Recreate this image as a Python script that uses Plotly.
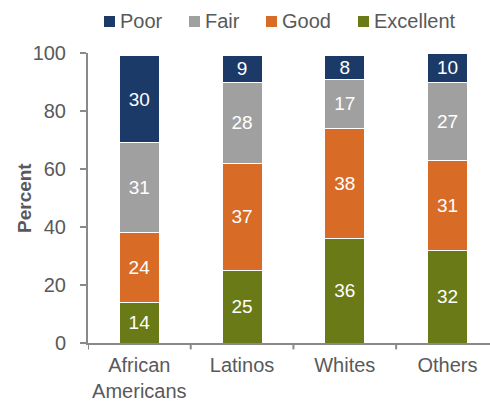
import plotly.graph_objects as go

groups = ["African<br>Americans", "Latinos", "Whites", "Others"]
excellent = [14, 25, 36, 32]
good = [24, 37, 38, 31]
fair = [31, 28, 17, 27]
poor = [30, 9, 8, 10]
y_ticks = [0, 20, 40, 60, 80, 100]

series = [
    ("Excellent", excellent, "#6A7A16"),
    ("Good", good, "#D86B26"),
    ("Fair", fair, "#A0A0A0"),
    ("Poor", poor, "#1B3A68"),
]

FONT = "Liberation Sans"
GREY = "#595959"
AXIS = "#898989"

fig = go.Figure()
for name, vals, color in series:
    fig.add_trace(go.Bar(
        x=list(range(len(groups))), y=vals, name=name,
        marker=dict(color=color, line=dict(color="white", width=1)),
        width=0.39,
        text=[str(v) for v in vals], textposition="inside", textangle=0,
        insidetextanchor="middle", constraintext="none",
        textfont=dict(color="white", size=19, family=FONT),
        showlegend=False,
    ))

fig.update_layout(
    barmode="stack",
    width=490, height=402,
    margin=dict(l=88, r=0, t=53, b=59, autoexpand=False),
    plot_bgcolor="white", paper_bgcolor="white",
    font=dict(family=FONT, size=20, color=GREY),
    showlegend=False,
)

# legend drawn as coloured squares with labels above the plot
legend_x = [104, 189, 266, 358]   # left edge of each square, in pixels
plot_left, plot_w, plot_bottom, plot_h = 88, 402, 343, 290
for (name, _, color), px in zip(reversed(series), legend_x):
    x0 = (px - plot_left) / plot_w
    x1 = (px + 11 - plot_left) / plot_w
    y0 = (plot_bottom - 27) / plot_h
    y1 = (plot_bottom - 16) / plot_h
    fig.add_shape(type="rect", xref="paper", yref="paper", x0=x0, x1=x1, y0=y0, y1=y1,
                  fillcolor=color, line=dict(width=0))
    fig.add_annotation(xref="paper", yref="paper", x=(px + 14 - plot_left) / plot_w,
                       y=(plot_bottom - 21.5) / plot_h, text=name, showarrow=False,
                       xanchor="left", yanchor="middle",
                       font=dict(size=20, color=GREY, family=FONT))

fig.add_annotation(xref="paper", yref="paper", x=(24 - plot_left) / plot_w, y=0.5,
                   text="<b>Percent</b>", textangle=-90, showarrow=False,
                   xanchor="center", yanchor="middle",
                   font=dict(size=19, color=GREY, family=FONT))

fig.update_xaxes(
    range=[-0.5, 3.414], tickvals=list(range(len(groups))), ticktext=groups,
    showline=True, linecolor=AXIS, linewidth=2,
    ticks="", showgrid=False, zeroline=False, ticklabelstandoff=3,
)
# category separators below the axis
for i in range(len(groups) + 1):
    fig.add_shape(type="line", xref="x", yref="paper", x0=i - 0.5, x1=i - 0.5,
                  y0=0, y1=-0.022, line=dict(color=AXIS, width=2))
fig.update_yaxes(
    range=[0, 100], tickvals=y_ticks, showline=True, linecolor=AXIS, linewidth=2,
    ticks="outside", ticklen=6, tickcolor=AXIS, tickwidth=2,
    showgrid=False, zeroline=False, ticklabelstandoff=10,
)

fig.write_html("out.html")
